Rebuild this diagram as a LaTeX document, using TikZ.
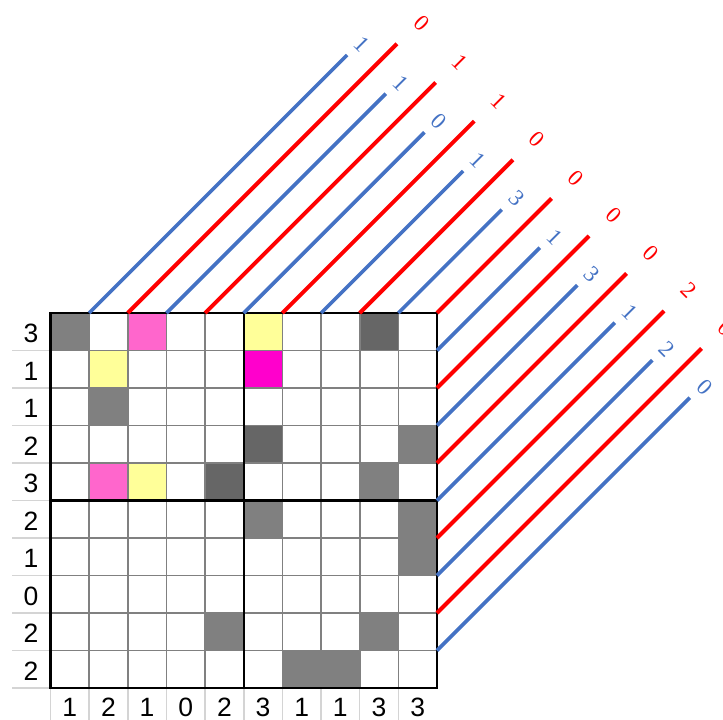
\documentclass[tikz,border=0pt]{standalone}
\usepackage{fontspec}
\setmainfont{Liberation Sans}
\newfontfamily\serifdig{Liberation Serif}
\definecolor{cgray}{HTML}{808080}
\definecolor{cdark}{HTML}{666666}
\definecolor{cpink}{HTML}{FF66CC}
\definecolor{cmag}{HTML}{FF00CC}
\definecolor{cyellow}{HTML}{FFFF99}
\definecolor{gridgray}{HTML}{808080}
\definecolor{sepgray}{HTML}{D4D4D4}
\definecolor{lblue}{HTML}{4472C4}
\definecolor{lred}{HTML}{FF0000}
\begin{document}
\begin{tikzpicture}[x=1pt,y=-1pt,
  thingrid/.style={draw=gridgray,line width=1.6pt},
  thickgrid/.style={draw=black,line width=2.2pt},
  sepline/.style={draw=sepgray,line width=1.5pt},
  cluelabel/.style={inner sep=0pt,font=\fontsize{26.5}{26.5}\selectfont},
  diaglabel/.style={inner sep=0pt,rotate=-45,font=\serifdig\fontsize{23}{23}\selectfont},
  blueline/.style={draw=lblue,line width=3.6pt},
  redline/.style={draw=lred,line width=4pt}]
\useasboundingbox (0,0) rectangle (723,720);
% cell fills
\foreach \r/\c/\col in {0/0/cgray,0/2/cpink,0/5/cyellow,0/8/cdark,1/1/cyellow,1/5/cmag,2/1/cgray,3/5/cdark,3/9/cgray,4/1/cpink,4/2/cyellow,4/4/cdark,4/8/cgray,5/5/cgray,5/9/cgray,6/9/cgray,8/4/cgray,8/8/cgray,9/6/cgray,9/7/cgray}
  \fill[\col] ({50.5+38.65*\c},{313+37.5*\r}) rectangle ++(38.65,37.5);
% thin grid lines
\foreach \k in {1,...,9}{
  \draw[thingrid] ({50.5+38.65*\k},313) -- ({50.5+38.65*\k},688);
  \draw[thingrid] (50.5,{313+37.5*\k}) -- (437,{313+37.5*\k});
}
% separators of the clue areas
\foreach \k in {1,...,10}
  \draw[sepline] (12,{313+37.5*\k}) -- (50.5,{313+37.5*\k});
\foreach \k in {0,...,9}
  \draw[sepline] ({50.5+38.65*\k},688) -- ({50.5+38.65*\k},720);
% thick lines
\draw[thickgrid] (50.5,313) rectangle (437,688);
\draw[thickgrid] (243.75,313) -- (243.75,688);
\draw[thickgrid] (50.5,500.5) -- (437,500.5);
% row clues
\foreach \r/\v in {0/3,1/1,2/1,3/2,4/3,5/2,6/1,7/0,8/2,9/2}
  \node[cluelabel] (rl\r) at (31,{333.5+37.5*\r}) {\v};
% column clues
\foreach \c/\v in {0/1,1/2,2/1,3/0,4/2,5/3,6/1,7/1,8/3,9/3}
  \node[cluelabel] (cl\c) at ({69.8+38.65*\c},707.5) {\v};
% diagonal lines with labels
\foreach \i/\lab in {1/1,2/0,3/1,4/1,5/0,6/1,7/1,8/0,9/3,10/0,11/1,12/0,13/3,14/0,15/1,16/2,17/2,18/0,19/0}{
  \pgfmathsetmacro{\sx}{\i<=10 ? 50.5+38.65*\i : 437}
  \pgfmathsetmacro{\sy}{\i<=10 ? 313 : 313+37.5*(\i-10)}
  \pgfmathsetmacro{\S}{\sx+\sy}
  \pgfmathtruncatemacro{\odd}{mod(\i,2)}
  \ifnum\odd=1
    \def\cend{292}\def\clab{318}\def\lst{blueline}\def\tcol{lblue}
  \else
    \def\cend{353}\def\clab{398}\def\lst{redline}\def\tcol{lred}
  \fi
  \coordinate (s\i) at (\sx,\sy);
  \coordinate (e\i) at ({(\S+\cend)/2},{(\S-\cend)/2});
  \draw[\lst] (s\i) -- (e\i);
  \node[diaglabel,text=\tcol] (t\i) at ({(\S+4+\clab)/2},{(\S+4-\clab)/2}) {\lab};
}
\end{tikzpicture}
\end{document}
